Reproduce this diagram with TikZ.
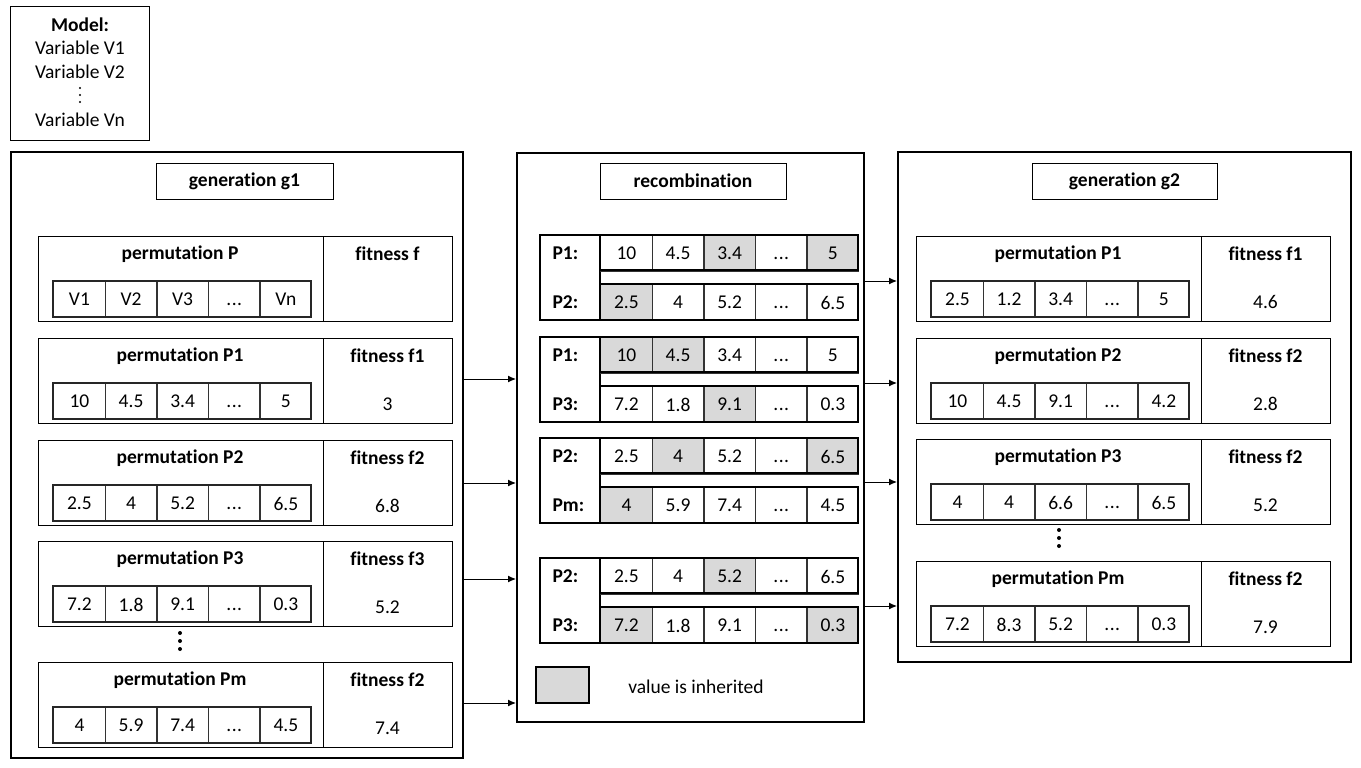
\documentclass[tikz,border=0pt]{standalone}
\usepackage{fontspec}
\setmainfont{Carlito}[Ligatures=NoCommon]
\usetikzlibrary{arrows.meta}

\definecolor{inhgray}{HTML}{D9D9D9}
\newcommand{\etc}{\vphantom{0}.\kern0.5pt.\kern0.5pt.}

\tikzset{
  box/.style={draw, line width=1pt},
  frame/.style={draw, line width=2pt},
  pairframe/.style={draw, line width=2pt},
  cell/.style={draw=black!80, line width=1.3pt, minimum width=51.6pt, minimum height=36pt,
    inner sep=0pt, anchor=north west},
  ttl/.style={font=\fontsize{19.5}{23}\selectfont\bfseries},
  link/.style={-{Latex[length=8pt,width=7pt]}, line width=1pt},
}

% one row of value cells
\newcommand{\cellrow}[4]{%
  \foreach \v [count=\i] in {#4}
    \node[cell] (#1-\i) at ({#2+(\i-1)*51.6},{#3}) {\v};
}
% grey background of inherited cells
\newcommand{\inherit}[3]{%
  \foreach \g in {#3}
    \fill[inhgray] ({#1+(\g-1)*51.6},{#2}) rectangle ++(51.6,36);
}
% permutation with its fitness
\newcommand{\permrow}[7]{%
  \draw[box] (#2,#3) rectangle ++(414,85);
  \draw[box] ({#2+285},#3) -- ++(0,85);
  \node[ttl] (#1-t) at ({#2+142},{#3+18}) {#4};
  \node[ttl] (#1-f) at ({#2+349.5},{#3+18}) {#5};
  \node (#1-v) at ({#2+349.5},{#3+66}) {#6};
  \cellrow{#1}{#2+15}{#3+45}{#7}
  \draw[line width=2pt, black!85] ({#2+15},{#3+45}) rectangle ++(258,36);
}
% two parents in the recombination
\newcommand{\pairrow}[8]{%
  \draw[pairframe] (540,#2) rectangle (600,{#2+85});
  \inherit{600}{#2}{#5}
  \inherit{600}{#2+49}{#8}
  \cellrow{#1a}{600}{#2}{#4}
  \cellrow{#1b}{600}{#2+49}{#7}
  \draw[pairframe] (600,#2) rectangle ++(258,35);
  \draw[pairframe] (600,{#2+49}) rectangle ++(258,36);
  \node[ttl, anchor=west] (#1a-l) at (549,{#2+18}) {#3};
  \node[ttl, anchor=west] (#1b-l) at (549,{#2+67}) {#6};
}
\newcommand{\dotcol}[4]{%
  \foreach \k in {-1,0,1}
    \fill (#1,{#2+\k*#4}) circle (#3);
}

\begin{document}
\begin{tikzpicture}[x=1pt,y=-1pt,font=\fontsize{19.5}{23}\selectfont]
\useasboundingbox (0,0) rectangle (1361,768);

% model
\node[box, minimum width=139, minimum height=134, anchor=north west] (model) at (10,6) {};
\node[ttl] (model-t) at (80,25) {Model:};
\node (model-v1) at (80,48) {Variable V1};
\node (model-v2) at (80,72) {Variable V2};
\dotcol{80}{95}{1.2}{7}
\node (model-vn) at (80,120) {Variable Vn};

% generation g1
\node[frame, minimum width=452, minimum height=606, anchor=north west] (g1) at (10,151) {};
\node[box, ttl, minimum width=177, minimum height=36] (g1-head) at (244.5,181) {generation g1};
\permrow{gp}{38}{236}{permutation P}{fitness f}{}{V1,V2,V3,\etc,Vn}
\permrow{ga}{38}{338}{permutation P1}{fitness f1}{3}{10,4.5,3.4,\etc,5}
\permrow{gb}{38}{440}{permutation P2}{fitness f2}{6.8}{2.5,4,5.2,\etc,6.5}
\permrow{gc}{38}{541}{permutation P3}{fitness f3}{5.2}{7.2,1.8,9.1,\etc,0.3}
\dotcol{180}{641}{2}{8}
\permrow{gm}{38}{662}{permutation Pm}{fitness f2}{7.4}{4,5.9,7.4,\etc,4.5}

% recombination
\node[frame, minimum width=347, minimum height=569, anchor=north west] (rec) at (516,152) {};
\node[box, ttl, minimum width=186, minimum height=36] (rec-head) at (693,181) {recombination};
\pairrow{ra}{235}{P1:}{10,4.5,3.4,\etc,5}{3,5}{P2:}{2.5,4,5.2,\etc,6.5}{1}
\pairrow{rb}{337}{P1:}{10,4.5,3.4,\etc,5}{1,2}{P3:}{7.2,1.8,9.1,\etc,0.3}{3}
\pairrow{rc}{438}{P2:}{2.5,4,5.2,\etc,6.5}{2,5}{Pm:}{4,5.9,7.4,\etc,4.5}{1}
\pairrow{rd}{558}{P2:}{2.5,4,5.2,\etc,6.5}{3}{P3:}{7.2,1.8,9.1,\etc,0.3}{1,5}
\node[pairframe, fill=inhgray, minimum width=53, minimum height=36, anchor=north west] (legend) at (535,666) {};
\node (legend-t) at (696,687) {value is inherited};

% generation g2
\node[frame, minimum width=453, minimum height=510, anchor=north west] (g2) at (897,151) {};
\node[box, ttl, minimum width=185, minimum height=36] (g2-head) at (1124.5,181) {generation g2};
\permrow{ha}{916}{236}{permutation P1}{fitness f1}{4.6}{2.5,1.2,3.4,\etc,5}
\permrow{hb}{916}{338}{permutation P2}{fitness f2}{2.8}{10,4.5,9.1,\etc,4.2}
\permrow{hc}{916}{439}{permutation P3}{fitness f2}{5.2}{4,4,6.6,\etc,6.5}
\dotcol{1059}{538}{2}{8}
\permrow{hm}{916}{561}{permutation Pm}{fitness f2}{7.9}{7.2,8.3,5.2,\etc,0.3}

% arrows
\foreach \y in {379,483,579,703}
  \draw[link] (g1.east |- 0,\y) -- (rec.west |- 0,\y);
\foreach \y in {281,383,482,606}
  \draw[link] (rec.east |- 0,\y) -- (g2.west |- 0,\y);

\end{tikzpicture}
\end{document}
